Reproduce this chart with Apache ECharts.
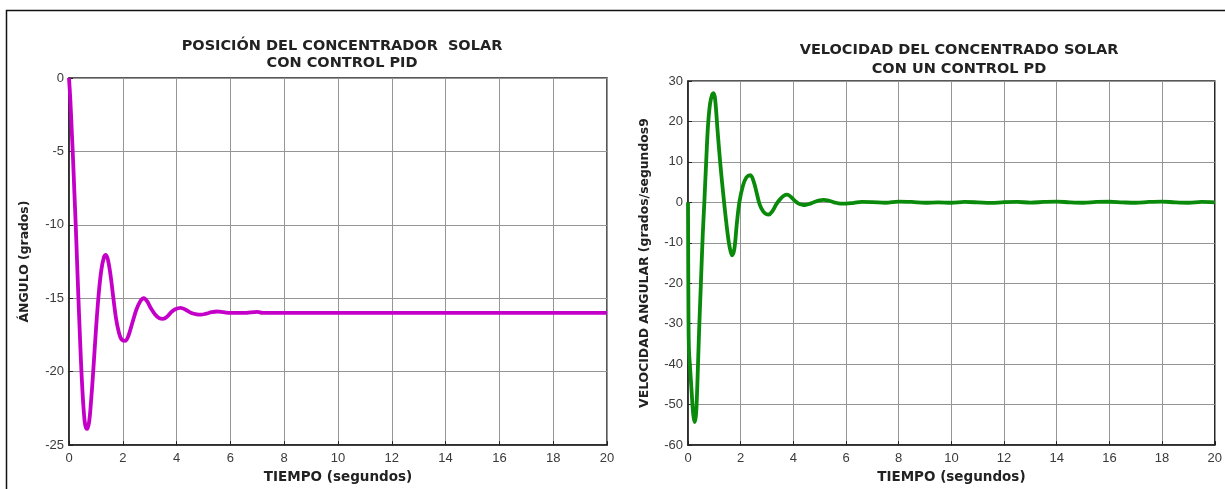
<!DOCTYPE html>
<html>
<head>
<meta charset="utf-8">
<script src="https://cdn.jsdelivr.net/npm/echarts@6/dist/echarts.min.js"></script>
<style>
html,body{margin:0;padding:0;background:#fff;}
#c{width:1225px;height:489px;}
</style>
</head>
<body>
<div id="c"></div>
<script>
// Tick labels / axis ranges
const xTicks = [0, 2, 4, 6, 8, 10, 12, 14, 16, 18, 20];
const posTicks = [0, -5, -10, -15, -20, -25];
const velTicks = [30, 20, 10, 0, -10, -20, -30, -40, -50, -60];

// Left chart: position (angle, degrees) vs time (s)
const posTime = [0, 0.05, 0.1, 0.15, 0.2, 0.25, 0.3, 0.35, 0.4, 0.45, 0.5, 0.55, 0.6, 0.67, 0.75, 0.82, 0.9, 1.0, 1.1, 1.2, 1.3, 1.37, 1.45, 1.55, 1.65, 1.75, 1.85, 1.95, 2.08, 2.2, 2.35, 2.5, 2.65, 2.78, 2.9, 3.05, 3.2, 3.35, 3.49, 3.65, 3.8, 3.95, 4.15, 4.35, 4.55, 4.75, 4.9, 5.1, 5.3, 5.5, 5.75, 6.0, 6.5, 7.0, 7.2, 7.5, 8, 9, 10, 11, 12, 13, 14, 15, 16, 17, 18, 19, 20];
const posAngle = [0, -1.5, -3.5, -5.5, -7.8, -10, -12.5, -15, -17.3, -19.5, -21.3, -22.7, -23.6, -23.9, -23.4, -22, -20, -17.2, -14.8, -13.1, -12.2, -12.05, -12.4, -13.5, -15, -16.4, -17.3, -17.8, -17.9, -17.6, -16.7, -15.8, -15.2, -15.0, -15.2, -15.7, -16.1, -16.35, -16.4, -16.25, -15.95, -15.75, -15.65, -15.8, -16.0, -16.1, -16.12, -16.05, -15.95, -15.9, -15.95, -16.0, -16.0, -15.93, -16.0, -16.0, -16.0, -16.0, -16.0, -16.0, -16.0, -16.0, -16.0, -16.0, -16.0, -16.0, -16.0, -16.0, -16.0];

// Right chart: angular velocity vs time (s)
const velTime = [0, 0.02, 0.04, 0.08, 0.14, 0.2, 0.26, 0.31, 0.36, 0.42, 0.49, 0.56, 0.62, 0.69, 0.76, 0.84, 0.92, 0.97, 1.03, 1.12, 1.22, 1.37, 1.5, 1.58, 1.67, 1.76, 1.85, 1.95, 2.08, 2.22, 2.37, 2.5, 2.62, 2.72, 2.85, 2.97, 3.07, 3.2, 3.35, 3.5, 3.65, 3.76, 3.9, 4.05, 4.2, 4.35, 4.45, 4.6, 4.8, 5.0, 5.15, 5.35, 5.55, 5.8, 6.0, 6.3, 6.6, 7.0, 7.5, 8.0, 8.5, 9.0, 9.5, 10, 10.5, 11, 11.5, 12, 12.5, 13, 13.5, 14, 14.5, 15, 15.5, 16, 16.5, 17, 17.5, 18, 18.5, 19, 19.5, 20];
const velValue = [0, -30, -37, -41, -47, -52.5, -54.3, -52, -44, -32, -20, -8, 0, 10, 19, 24.5, 26.7, 27, 25.5, 18, 10, 0, -7.5, -11, -13.1, -11.5, -5.5, 0, 4, 6.2, 6.7, 5, 2, -0.5, -2.2, -2.9, -3.0, -2.2, -0.5, 0.8, 1.7, 1.9, 1.4, 0.4, -0.3, -0.6, -0.65, -0.4, 0.1, 0.5, 0.6, 0.4, 0, -0.3, -0.3, -0.1, 0.1, 0.05, -0.1, 0.2, 0.1, -0.1, 0, -0.1, 0.1, 0, -0.15, 0.05, 0.1, -0.05, 0.1, 0.2, 0, -0.1, 0.1, 0.15, 0, -0.1, 0.1, 0.2, 0, -0.1, 0.1, 0];

const posData = posTime.map((t, i) => [t, posAngle[i]]);
const velData = velTime.map((t, i) => [t, velValue[i]]);

const FONT = 'Liberation Sans, Arial, sans-serif';
const BFONT = 'DejaVu Sans, Liberation Sans, sans-serif';
const gridLine = { show: true, lineStyle: { color: '#959595', width: 1 } };
const axisLine = { show: true, onZero: false, lineStyle: { color: '#222', width: 1.5 } };
const tickLabel = { color: '#3a3a3a', fontSize: 13, fontFamily: FONT };

function xAxis(gridIndex) {
  return {
    type: 'value', gridIndex, min: xTicks[0], max: xTicks[xTicks.length - 1], interval: xTicks[1] - xTicks[0],
    name: 'TIEMPO (segundos)', nameLocation: 'middle', nameGap: 23,
    nameTextStyle: { color: '#222', fontSize: 13.5, fontWeight: 'bold', fontFamily: BFONT },
    axisLine, axisTick: { show: true, inside: true, length: 4, lineStyle: { color: '#222' } },
    axisLabel: Object.assign({ margin: 7 }, tickLabel), splitLine: gridLine
  };
}
function yAxis(gridIndex, ticks, name, gap) {
  return {
    type: 'value', gridIndex, min: ticks[ticks.length - 1], max: ticks[0], interval: ticks[0] - ticks[1],
    name, nameLocation: 'middle', nameGap: gap, nameRotate: 90,
    nameTextStyle: { color: '#222', fontSize: 12.4, fontWeight: 'bold', fontFamily: BFONT },
    axisLine, axisTick: { show: true, inside: true, length: 4, lineStyle: { color: '#222' } },
    axisLabel: Object.assign({ margin: 5 }, tickLabel), splitLine: gridLine
  };
}

const chart = echarts.init(document.getElementById('c'), null, { renderer: 'canvas' });
chart.setOption({
  backgroundColor: '#fff',
  animation: false,
  title: [
    { text: 'POSICIÓN DEL CONCENTRADOR  SOLAR\nCON CONTROL PID', left: 337, top: 33, textAlign: 'center',
      textStyle: { fontSize: 14.5, fontWeight: 'bold', color: '#222', fontFamily: BFONT, lineHeight: 17 } },
    { text: 'VELOCIDAD DEL CONCENTRADO SOLAR\nCON UN CONTROL PD', left: 954, top: 36, textAlign: 'center',
      textStyle: { fontSize: 14.5, fontWeight: 'bold', color: '#222', fontFamily: BFONT, lineHeight: 19 } }
  ],
  grid: [
    { left: 69, top: 78, width: 538, height: 369, show: true, borderColor: '#222', borderWidth: 1.5, backgroundColor: '#fff' },
    { left: 688, top: 81, width: 532, height: 365, show: true, borderColor: '#222', borderWidth: 1.5, backgroundColor: '#fff' }
  ],
  xAxis: [xAxis(0), xAxis(1)],
  yAxis: [
    yAxis(0, posTicks, 'ÁNGULO (grados)', 38),
    yAxis(1, velTicks, 'VELOCIDAD ANGULAR (grados/segundos9', 37)
  ],
  graphic: [
    { type: 'rect', shape: { x: 6.5, y: 10.5, width: 1240, height: 500 }, style: { fill: 'none', stroke: '#111', lineWidth: 1.5 }, silent: true, z: 100 }
  ],
  series: [
    { type: 'line', xAxisIndex: 0, yAxisIndex: 0, data: posData, showSymbol: false, smooth: 0.35,
      lineStyle: { color: '#c400c8', width: 3.8 }, clip: true },
    { type: 'line', xAxisIndex: 1, yAxisIndex: 1, data: velData, showSymbol: false, smooth: 0.35,
      lineStyle: { color: '#0a8a0a', width: 3.8 }, clip: true }
  ]
});
</script>
</body>
</html>
